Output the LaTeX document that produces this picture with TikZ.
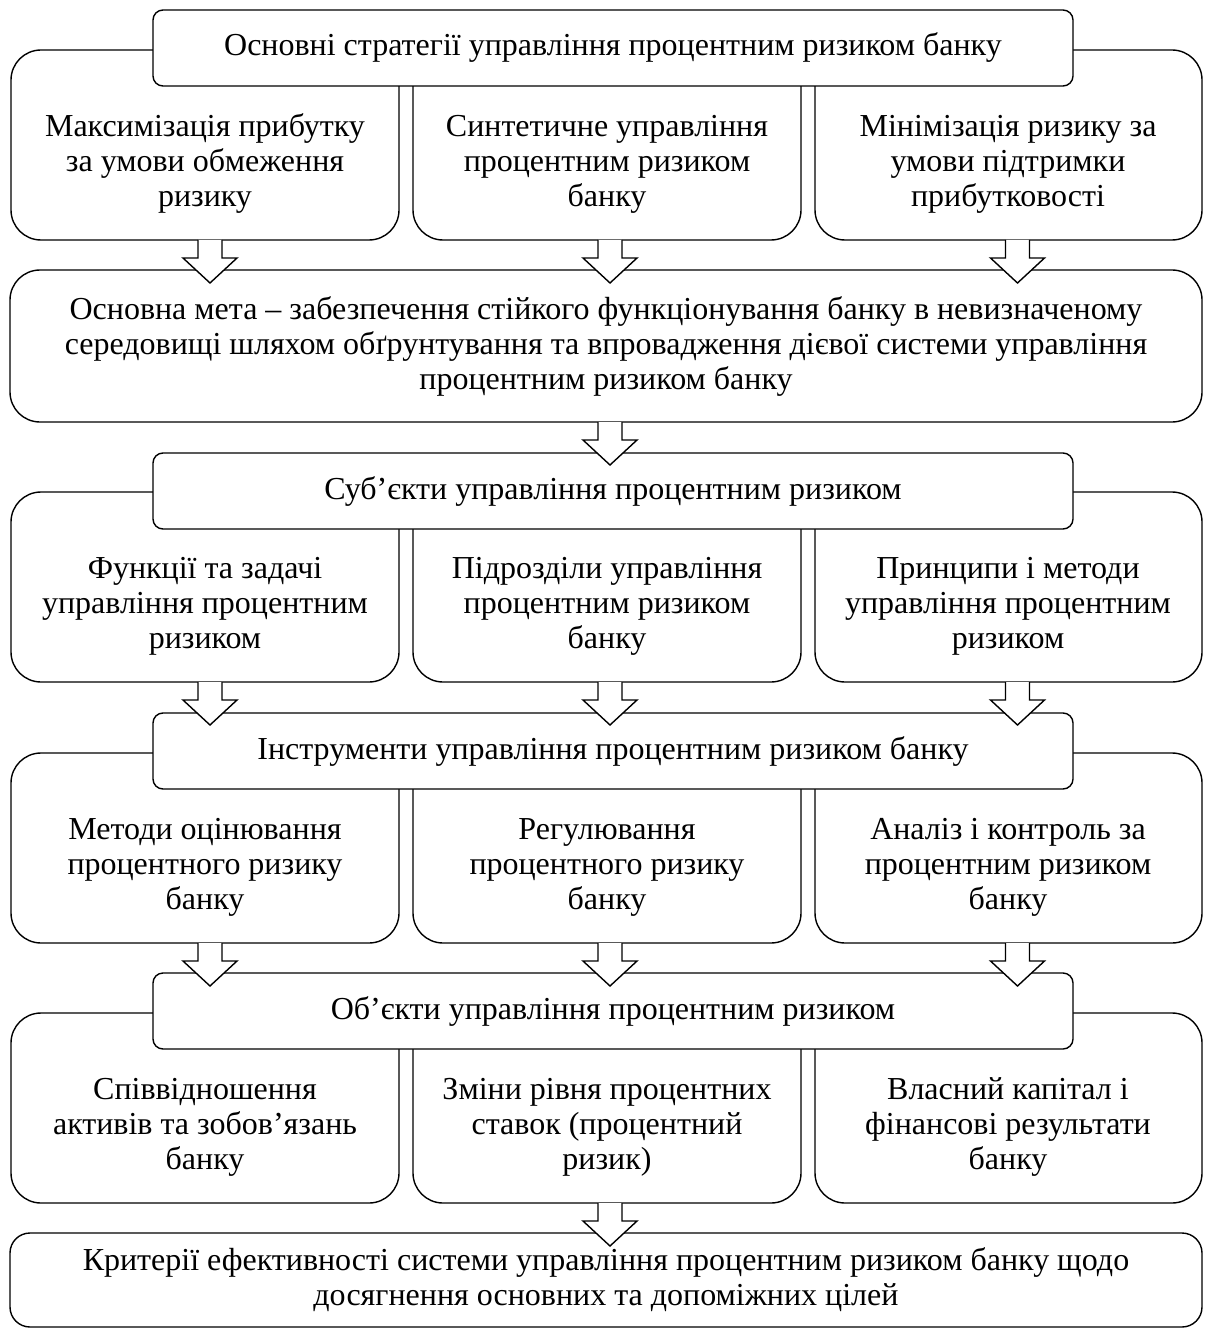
\documentclass[tikz,border=0pt]{standalone}
\usepackage{fontspec}
\setmainfont{Liberation Serif}
\usetikzlibrary{calc}
\tikzset{
  lw/.style={line width=1.4pt},
  bigbox/.style={draw, lw, rounded corners=30pt, fill=white, inner sep=0pt, outer sep=0pt, anchor=north west, minimum height=190pt},
  hdr/.style={draw, lw, rounded corners=10pt, fill=white, inner sep=0pt, outer sep=0pt, anchor=north west, minimum width=920pt, minimum height=76pt, font=\fontsize{32}{35}\selectfont},
  widebox/.style={draw, lw, fill=white, inner sep=0pt, outer sep=0pt, anchor=north west, minimum width=1192pt, align=center, font=\fontsize{32}{35}\selectfont},
  txt/.style={align=center, inner sep=0pt, font=\fontsize{32}{35}\selectfont},
  barrow/.style={draw, lw, fill=white, line join=miter},
}
\newcommand\blockarrowat[1]{\draw[barrow] (#1) ++(-12,0) -- ++(0,18) -- ++(-15,0) -- ++(27,25) -- ++(27,-25) -- ++(-15,0) -- ++(0,-18);}
\begin{document}
\begin{tikzpicture}[x=1pt,y=-1pt]
\useasboundingbox (0,0) rectangle (1205,1329);
% ---------- group 1
\node[bigbox, minimum width=388pt] (b11) at (11,50) {};
\node[bigbox, minimum width=388pt] (b12) at (413,50) {};
\node[bigbox, minimum width=387pt] (b13) at (815,50) {};
\node[hdr] (h1) at (153,10) {Основні стратегії управління процентним ризиком банку};
\node[txt] (t11) at (205,164) {Максимізація прибутку\\за умови обмеження\\ризику};
\node[txt] (t12) at (607,164) {Синтетичне управління\\процентним ризиком\\банку};
\node[txt] (t13) at (1008,164) {Мінімізація ризику за\\умови підтримки\\прибутковості};
% ---------- goal
\node[widebox, rounded corners=30pt, minimum height=152pt] (goal) at (10,270) {Основна мета – забезпечення стійкого функціонування банку в невизначеному\\середовищі шляхом обґрунтування та впровадження дієвої системи управління\\процентним ризиком банку};
\blockarrowat{$(b11.south)+(5,0)$}
\blockarrowat{$(b12.south)+(3,0)$}
\blockarrowat{$(b13.south)+(9,0)$}
% ---------- group 2
\node[bigbox, minimum width=388pt] (b21) at (11,492) {};
\node[bigbox, minimum width=388pt] (b22) at (413,492) {};
\node[bigbox, minimum width=387pt] (b23) at (815,492) {};
\node[hdr] (h2) at (153,453) {Суб’єкти управління процентним ризиком};
\node[txt] (t21) at (205,606) {Функції та задачі\\управління процентним\\ризиком};
\node[txt] (t22) at (607,606) {Підрозділи управління\\процентним ризиком\\банку};
\node[txt] (t23) at (1008,606) {Принципи і методи\\управління процентним\\ризиком};
\blockarrowat{$(goal.south)+(4,0)$}
% ---------- group 3
\node[bigbox, minimum width=388pt] (b31) at (11,753) {};
\node[bigbox, minimum width=388pt] (b32) at (413,753) {};
\node[bigbox, minimum width=387pt] (b33) at (815,753) {};
\node[hdr] (h3) at (153,713) {Інструменти управління процентним ризиком банку};
\node[txt] (t31) at (205,867) {Методи оцінювання\\процентного ризику\\банку};
\node[txt] (t32) at (607,867) {Регулювання\\процентного ризику\\банку};
\node[txt] (t33) at (1008,867) {Аналіз і контроль за\\процентним ризиком\\банку};
\blockarrowat{$(b21.south)+(5,0)$}
\blockarrowat{$(b22.south)+(3,0)$}
\blockarrowat{$(b23.south)+(9,0)$}
% ---------- group 4
\node[bigbox, minimum width=388pt] (b41) at (11,1013) {};
\node[bigbox, minimum width=388pt] (b42) at (413,1013) {};
\node[bigbox, minimum width=387pt] (b43) at (815,1013) {};
\node[hdr] (h4) at (153,973) {Об’єкти управління процентним ризиком};
\node[txt] (t41) at (205,1127) {Співвідношення\\активів та зобов’язань\\банку};
\node[txt] (t42) at (607,1127) {Зміни рівня процентних\\ставок (процентний\\ризик)};
\node[txt] (t43) at (1008,1127) {Власний капітал і\\фінансові результати\\банку};
\blockarrowat{$(b31.south)+(5,0)$}
\blockarrowat{$(b32.south)+(3,0)$}
\blockarrowat{$(b33.south)+(9,0)$}
% ---------- final
\node[widebox, rounded corners=20pt, minimum height=94pt] (fin) at (10,1233) {Критерії ефективності системи управління процентним ризиком банку щодо\\досягнення основних та допоміжних цілей};
\blockarrowat{$(b42.south)+(3,0)$}
\end{tikzpicture}
\end{document}
